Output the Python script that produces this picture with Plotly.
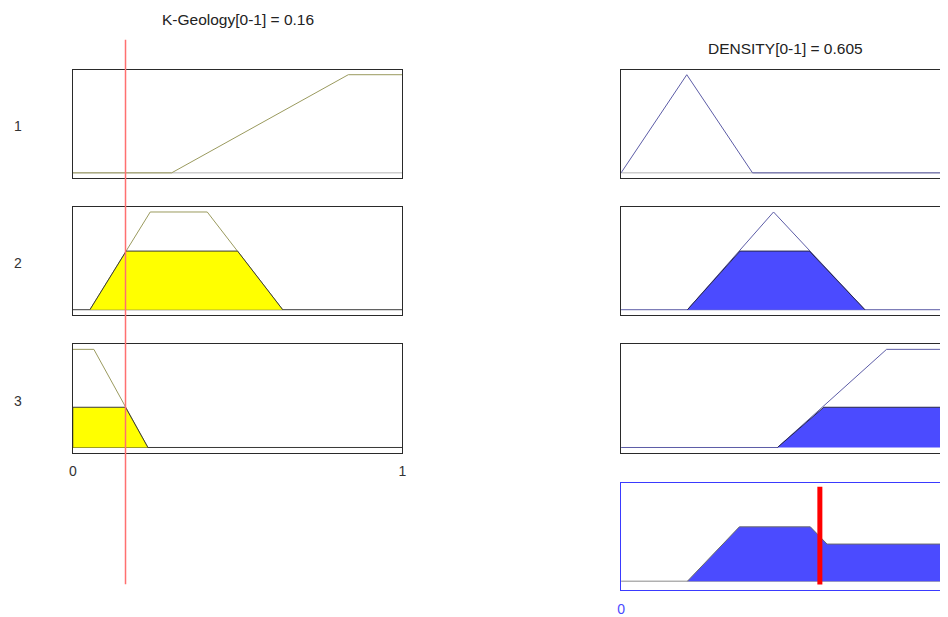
import plotly.graph_objects as go

# crisp values
geo_value = 0.16
dens_value = 0.605

# input K-Geology membership functions (vertices) and clipped areas
in1_x = [0, 0.30, 0.836, 1]
in1_y = [0, 0, 1, 1]
in2_x = [0.052, 0.235, 0.408, 0.637]
in2_y = [0, 1, 1, 0]
in2_fill_x = [0.052, 0.162, 0.50, 0.637]
in2_fill_y = [0, 0.60, 0.60, 0]
in3_x = [0, 0.064, 0.228, 1]
in3_y = [1, 1, 0, 0]
in3_fill_x = [0, 0, 0.16, 0.228]
in3_fill_y = [0, 0.41, 0.41, 0]

# output DENSITY membership functions and clipped areas
out1_x = [0, 0.20, 0.40, 1]
out1_y = [0, 1, 0, 0]
out2_x = [0.202, 0.464, 0.742]
out2_y = [0, 1, 0]
out2_fill_x = [0.202, 0.362, 0.573, 0.742]
out2_fill_y = [0, 0.60, 0.60, 0]
out3_x = [0, 0.476, 0.808, 1]
out3_y = [0, 0, 1, 1]
out3_fill_x = [0.476, 0.617, 1, 1]
out3_fill_y = [0, 0.41, 0.41, 0]

# aggregated output
agg_x = [0.202, 0.36, 0.576, 0.627, 1, 1]
agg_y = [0, 0.60, 0.60, 0.41, 0.41, 0]

rule_labels = ["1", "2", "3"]
in_title = "K-Geology[0-1] = 0.16"
out_title = "DENSITY[0-1] = 0.605"

# page body has an 8px margin, so the figure is a bit smaller than the window
OFF = 8
W, H = 948 - OFF, 617 - OFF
FONT = "Arial, Liberation Sans, sans-serif"
IN_LINE = "#9a9a5e"
OUT_LINE = "#5c5ca6"
EDGE = "#3a3a3a"
BASE = "#b4b4b4"


def px2x(px):
    return (px - OFF) / W


def px2y(px):
    return 1 - (px - OFF) / H


def ax_id(n):
    return "" if n == 1 else str(n)


row_top = [70, 208, 346]
row_bot = [179, 316.5, 455]
left_dom = [px2x(69.3), px2x(401.7)]
right_dom = [px2x(622.3), 1.0]
right_range = [0, (948 - 622.3) / 331.4]
yr = [-0.054, 1.051]

fig = go.Figure()


def line(x, y, color, n, width=1):
    fig.add_trace(go.Scatter(x=x, y=y, mode="lines", line=dict(color=color, width=width),
                             xaxis="x" + ax_id(n), yaxis="y" + ax_id(n),
                             hoverinfo="skip", showlegend=False))


def area(x, y, fill, edge, n):
    fig.add_trace(go.Scatter(x=x, y=y, mode="lines", fill="toself", fillcolor=fill,
                             line=dict(color=edge, width=1),
                             xaxis="x" + ax_id(n), yaxis="y" + ax_id(n),
                             hoverinfo="skip", showlegend=False))


# input panels (axes 1-3)
line([0, 1], [0, 0], BASE, 1)
line(in1_x, in1_y, IN_LINE, 1)
line([0, 1], [0, 0], EDGE, 2)
line(in2_x, in2_y, IN_LINE, 2)
area(in2_fill_x, in2_fill_y, "#ffff00", EDGE, 2)
line(in3_x, in3_y, IN_LINE, 3)
line([0, 1], [0, 0], EDGE, 3)
area(in3_fill_x, in3_fill_y, "#ffff00", EDGE, 3)

# output panels (axes 4-6)
line([0, 1], [0, 0], BASE, 4)
line(out1_x, out1_y, OUT_LINE, 4)
line([0, 1], [0, 0], OUT_LINE, 5)
line(out2_x, out2_y, OUT_LINE, 5)
area(out2_fill_x, out2_fill_y, "#4b4bff", "#26264a", 5)
line(out3_x, out3_y, OUT_LINE, 6)
area(out3_fill_x, out3_fill_y, "#4b4bff", "#26264a", 6)

# aggregate (axis 7)
line([0, 1], [0, 0], "#8a8a8a", 7)
area(agg_x, agg_y, "#4b4bff", "#6a6a6a", 7)

layout = dict(width=W, height=H, margin=dict(l=0, r=0, t=0, b=0),
              paper_bgcolor="white", plot_bgcolor="white", showlegend=False,
              font=dict(family=FONT, size=14, color="#333333"))

axis_common = dict(showgrid=False, zeroline=False, ticks="", showticklabels=False,
                   linecolor="#2a2a2a", linewidth=1, showline=True, fixedrange=True)

for i in range(3):
    ydom = [px2y(row_bot[i]), px2y(row_top[i])]
    a, b = i + 1, i + 4
    # left column
    layout["xaxis" + ax_id(a)] = dict(axis_common, domain=left_dom, range=[0, 1], mirror=True,
                                      anchor="y" + ax_id(a))
    layout["yaxis" + ax_id(a)] = dict(axis_common, domain=ydom, range=yr, mirror=True,
                                      anchor="x" + ax_id(a))
    # right column, cut at the window edge
    layout["xaxis" + ax_id(b)] = dict(axis_common, domain=right_dom, range=right_range, mirror=True,
                                      anchor="y" + ax_id(b))
    layout["yaxis" + ax_id(b)] = dict(axis_common, domain=ydom, range=yr, mirror=False,
                                      anchor="x" + ax_id(b))

layout["xaxis3"].update(showticklabels=True, tickvals=[0, 1], ticktext=["0", "1"],
                        ticklabelstandoff=5, tickfont=dict(size=14, color="#333333"))

layout["xaxis7"] = dict(axis_common, domain=right_dom, range=right_range, mirror=True, anchor="y7",
                        linecolor="#3a3aff", showticklabels=True, tickvals=[0, 1], ticktext=["0", "1"],
                        ticklabelstandoff=6, tickfont=dict(size=14, color="#4a4aff"))
layout["yaxis7"] = dict(axis_common, domain=[px2y(593.3), px2y(485)], range=[-0.102, 1.088],
                        mirror=False, anchor="x7", linecolor="#3a3aff")

fig.update_layout(**layout)

# crisp input line across the whole column, defuzzified output line
fig.add_shape(type="line", xref="x", yref="paper", x0=geo_value, x1=geo_value,
              y0=px2y(587), y1=px2y(40), line=dict(color="#ff7070", width=1.5))
fig.add_shape(type="line", xref="x7", yref="y7", x0=dens_value, x1=dens_value,
              y0=-0.036, y1=1.044, line=dict(color="#ff0000", width=5))

for i, lab in enumerate(rule_labels):
    fig.add_annotation(text=lab, xref="paper", yref="y" + ax_id(i + 1) + " domain",
                       x=px2x(14), y=0.5, xanchor="center", yanchor="middle", yshift=-2,
                       showarrow=False, font=dict(size=14, color="#333333"))

fig.add_annotation(text=in_title, xref="x", yref="paper", x=0.5, y=px2y(20),
                   xanchor="center", yanchor="middle", showarrow=False,
                   font=dict(size=15.5, color="#222222"))
fig.add_annotation(text=out_title, xref="x4", yref="paper", x=0.5, y=px2y(49),
                   xanchor="center", yanchor="middle", showarrow=False,
                   font=dict(size=15.5, color="#222222"))

fig.write_html("out.html")
